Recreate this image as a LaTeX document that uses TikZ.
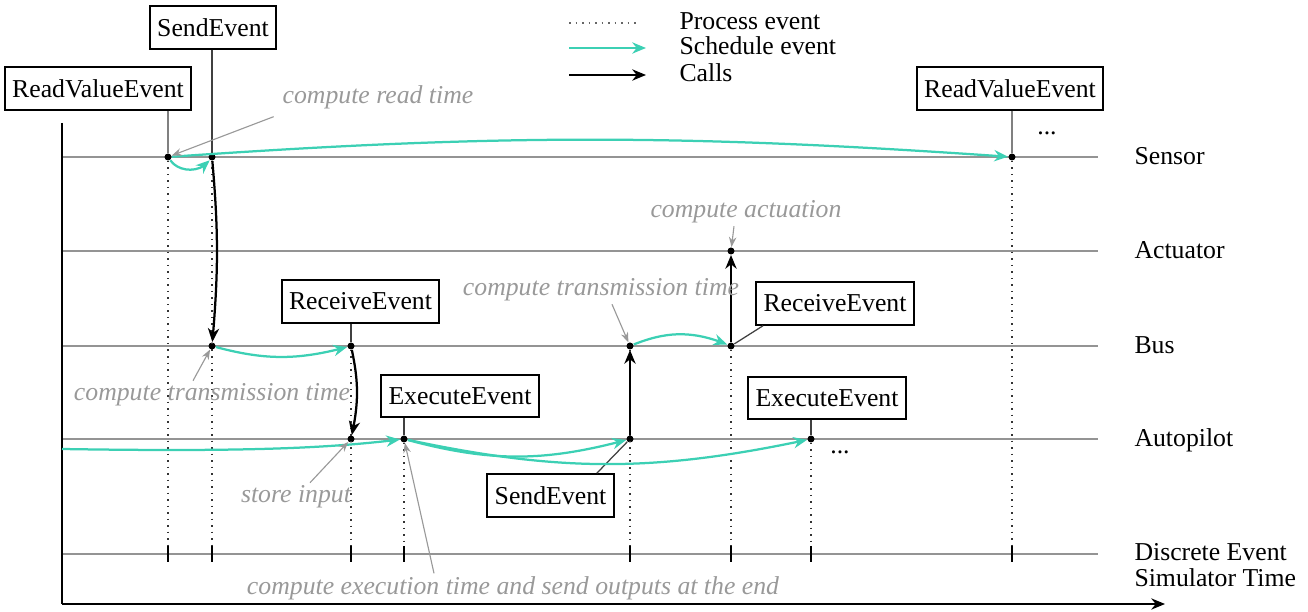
\documentclass[tikz,border=0pt]{standalone}
\usepackage{fontspec}
\setmainfont{Liberation Serif}
\usetikzlibrary{arrows.meta,bending}
\definecolor{schedcol}{RGB}{60,208,180}
\newcommand{\lanefont}{\fontsize{10.3}{12.4}\selectfont}

\begin{document}
\begin{tikzpicture}[x=0.4pt,y=-0.4pt, font=\lanefont,
  timeline/.style={draw=black!42, line width=0.8pt},
  axis/.style={draw=black, line width=0.8pt},
  evbox/.style={draw, line width=0.8pt, inner xsep=3pt, inner ysep=2pt, minimum height=17pt},
  evdot/.style={circle, fill=black, inner sep=0pt, minimum size=2.8pt},
  proc/.style={draw=black!80, dotted, line width=0.6pt},
  sched/.style={draw=schedcol, line width=0.9pt, -{Stealth[length=5.5pt,width=4.5pt]}},
  calls/.style={draw=black, line width=0.9pt, -{Stealth[length=5.5pt,width=4.5pt]}},
  note/.style={text=black!40, font=\lanefont\itshape, inner sep=1pt},
  notearrow/.style={draw=black!40, line width=0.45pt, -{Stealth[length=4pt,width=3pt]}},
  link/.style={draw=black!75, line width=0.5pt},
  tickmark/.style={draw=black, line width=0.7pt},
  rowlabel/.style={anchor=base west, inner sep=0pt},
]
\useasboundingbox (0,0) rectangle (1308,612);

% lanes
\foreach \name/\y in {sen/157, act/251, bus/346, aut/439, des/554}{
  \coordinate (\name L) at (62,\y);
  \coordinate (\name R) at (1098,\y);
  \draw[timeline] (\name L) -- (\name R);
}

% axes
\coordinate (origin) at (62,604);
\coordinate (ytop) at (62,123);
\coordinate (xend) at (1165,604);
\draw[axis] (ytop) -- (origin);
\draw[axis, -{Stealth[length=5.5pt,width=4.5pt]}] (origin) -- (xend);

% event points
\node[evdot] (s1) at (168,157) {};
\node[evdot] (s2) at (212,157) {};
\node[evdot] (s3) at (1012,157) {};
\node[evdot] (a1) at (731,251) {};
\node[evdot] (b1) at (212,346) {};
\node[evdot] (b2) at (351,346) {};
\node[evdot] (b3) at (630,346) {};
\node[evdot] (b4) at (731,346) {};
\node[evdot] (p1) at (351,439) {};
\node[evdot] (p2) at (404,439) {};
\node[evdot] (p3) at (630,439) {};
\node[evdot] (p4) at (811,439) {};

% processing lines and ticks on the simulator time lane
\coordinate (tktop) at (0,546);
\coordinate (tkbot) at (0,562);
\foreach \p in {s1,s2,b2,p2,b3,b4,p4,s3}{
  \draw[proc] (\p) -- (\p |- tktop);
  \draw[tickmark] (\p |- tktop) -- (\p |- tkbot);
}

% event boxes
\node[evbox] (rv1) at (98,88.5) {ReadValueEvent};
\node[evbox] (se1) at (213,27.5) {SendEvent};
\node[evbox] (rv2) at (1010,88.5) {ReadValueEvent};
\node[evbox] (re1) at (360.5,301.5) {ReceiveEvent};
\node[evbox] (ee1) at (460,396) {ExecuteEvent};
\node[evbox] (re2) at (835,303.5) {ReceiveEvent};
\node[evbox] (ee2) at (827,398) {ExecuteEvent};
\node[evbox] (se2) at (550.5,495.5) {SendEvent};

\draw[link, draw=black!50, line width=0.8pt] (rv1.south -| s1) -- (s1);
\draw[link] (se1.south -| s2) -- (s2);
\draw[link, draw=black!50, line width=0.8pt] (rv2.south -| s3) -- (s3);
\draw[link] (re1.south -| b2) -- (b2);
\draw[link] (ee1.south -| p2) -- (p2);
\draw[link] ([xshift=3.2pt]re2.south west) -- (b4);
\draw[link] (ee2.south -| p4) -- (p4);
\draw[link] ([xshift=-7.2pt]se2.north east) -- (p3);

% scheduled events
\coordinate (apin) at (62,449);
\draw[sched] (s1) to[bend right=55] (s2);
\draw[sched] (s1) to[bend left=4] (s3);
\draw[sched] (b1) to[bend right=15] (b2);
\draw[sched] (b3) to[bend left=22] (b4);
\draw[sched] (apin) .. controls (250,452) and (330,448) .. (p2);
\draw[sched] (p2) to[bend right=15] (p3);
\draw[sched] (p2) to[bend right=12] (p4);

% calls
\draw[calls] (s2) to[bend left=5] (b1);
\draw[calls] (b2) to[bend left=12] (p1);
\draw[calls] (p3) -- (b3);
\draw[calls] (b4) -- (a1);

% annotations
\node[note] (nrt) at (378,97) {compute read time};
\draw[notearrow] ([xshift=-2.4pt,yshift=-2pt]nrt.south west) -- (s1);
\node[note] (nca) at (746,212) {compute actuation};
\draw[notearrow] ([xshift=-4.8pt]nca.south) -- (a1);
\node[note] (nct1) at (601,290) {compute transmission time};
\draw[notearrow] ([xshift=4.4pt]nct1.south) -- (b3);
\node[note] (nct2) at (212,395) {compute transmission time};
\draw[notearrow] ([xshift=-7.6pt]nct2.north) -- (b1);
\node[note] (nsi) at (296,497) {store input};
\draw[notearrow] ([xshift=5.6pt]nsi.north) -- (p1);
\node[note] (nce) at (513,588) {compute execution time and send outputs at the end};
\draw[notearrow] ([xshift=-31.6pt]nce.north) -- (p2);

\node (more1) at (1047,133) {...};
\node (more2) at (840,452) {...};

% lane names
\node[rowlabel] (lsen) at (1134,165) {Sensor};
\node[rowlabel] (lact) at (1134,259) {Actuator};
\node[rowlabel] (lbus) at (1134,354) {Bus};
\node[rowlabel] (laut) at (1134,447) {Autopilot};
\node[rowlabel] (ldes1) at (1134,561) {Discrete Event};
\node[rowlabel] (ldes2) at (1134,586) {Simulator Time};

% legend
\coordinate (lg1a) at (569,23); \coordinate (lg1b) at (640,23);
\coordinate (lg2a) at (569,48); \coordinate (lg2b) at (646,48);
\coordinate (lg3a) at (569,75); \coordinate (lg3b) at (646,75);
\draw[proc, draw=black!60] (lg1a) -- (lg1b);
\draw[sched] (lg2a) -- (lg2b);
\draw[calls] (lg3a) -- (lg3b);
\node[rowlabel] (lgt1) at (679,30) {Process event};
\node[rowlabel] (lgt2) at (679,55) {Schedule event};
\node[rowlabel] (lgt3) at (679,82) {Calls};
\end{tikzpicture}
\end{document}
